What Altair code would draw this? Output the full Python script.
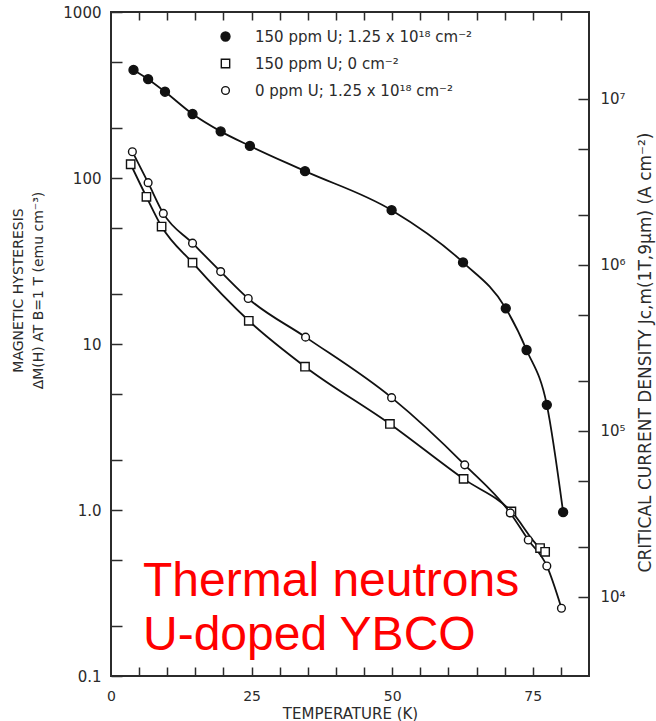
import altair as alt
import pandas as pd

# Magnetic hysteresis dM (emu cm^-3) against temperature (K) for three samples
t_u_irr = [4.0, 6.6, 9.6, 14.5, 19.5, 24.7, 34.5, 49.9, 62.6, 70.2, 73.9, 77.5, 80.4]
dm_u_irr = [448, 394, 331, 243, 191, 156, 110, 64, 31, 16.4, 9.2, 4.3, 0.97]

t_u_unirr = [3.5, 6.3, 9.0, 14.5, 24.5, 34.5, 49.6, 62.7, 71.2, 76.3, 77.2]
dm_u_unirr = [121, 77, 51, 30.9, 13.8, 7.3, 3.3, 1.54, 0.98, 0.59, 0.56]

t_pure_irr = [3.8, 6.6, 9.3, 14.5, 19.5, 24.4, 34.6, 49.9, 62.9, 71.0, 74.2, 77.5, 80.1]
dm_pure_irr = [144, 93.7, 61.2, 40.5, 27.3, 18.8, 11.0, 4.75, 1.87, 0.96, 0.66, 0.46, 0.256]

samples = [
    "150 ppm U; 1.25 x 10¹⁸ cm⁻²",
    "150 ppm U; 0 cm⁻²",
    "0 ppm U; 1.25 x 10¹⁸ cm⁻²",
]

# Jc (A cm^-2) corresponding to 1 emu cm^-3 of hysteresis
JC_PER_DM = 1e7 / 300.0

# Tick values (labelled ones first, then unlabelled minor ticks)
dm_labels = [0.1, 1, 10, 100, 1000]
dm_minor = [0.2, 0.5, 2, 5, 20, 50, 200, 500]
jc_labels = [1e4, 1e5, 1e6, 1e7]
jc_minor = [2e4, 5e4, 2e5, 5e5, 2e6, 5e6]
t_labels = [0, 25, 50, 75]
t_minor = [5, 10, 15, 20, 30, 35, 40, 45, 55, 60, 65, 70, 80]

W, H = 478, 664
INK = "#2b2b2b"
FONT = "DejaVu Sans"
TICK_Y, TICK_X = 11, 9

rows = []
for name, ts, ds in zip(samples, [t_u_irr, t_u_unirr, t_pure_irr],
                        [dm_u_irr, dm_u_unirr, dm_pure_irr]):
    for t, d in zip(ts, ds):
        rows.append({"T": t, "dM": d, "sample": name})
df = pd.DataFrame(rows)

xs = alt.Scale(domain=[0, 85], nice=False, zero=False)
ys = alt.Scale(type="log", domain=[0.1, 1000], nice=False)
jcs = alt.Scale(type="log", domain=[0.1 * JC_PER_DM, 1000 * JC_PER_DM], nice=False)

# Axes are pulled inside the frame by their tick length so the ticks point inward
common = dict(
    domain=False, grid=False, tickColor=INK, tickWidth=1.5, tickOpacity=1,
    labelFlush=False, labelOverlap=False, labelBound=False,
    labelFont=FONT, labelColor=INK, titleFont=FONT, titleColor=INK,
    titleFontWeight="normal", zindex=1,
)

# Temperature labels and title along the bottom edge
bottom_axis = alt.Axis(
    orient="bottom", values=t_labels, ticks=False, labelPadding=13, labelFontSize=14,
    title="TEMPERATURE (K)", titleFontSize=15, titleY=37, titleBaseline="middle",
    **common,
)
# Upward ticks sitting on the bottom edge (a top-oriented axis moved down to it)
bottom_tick_axis = alt.Axis(
    orient="top", values=t_minor + [25, 50, 75], offset=-H, tickSize=TICK_X, ticks=True,
    labels=False, title=None, **common,
)
top_axis = alt.Axis(
    orient="top", values=t_minor + [25, 50, 75], offset=-8, tickSize=8, ticks=True,
    labels=False, title=None, **common,
)
y_axis = alt.Axis(
    orient="left", values=dm_labels + dm_minor, offset=-TICK_Y, tickSize=TICK_Y, ticks=True,
    labelPadding=10, labelFontSize=15,
    labelExpr=("indexof([0.1, 1, 10, 100, 1000], datum.value) < 0 ? '' : "
               "datum.value < 0.5 ? '0.1' : datum.value < 5 ? '1.0' : format(datum.value, 'd')"),
    title=["MAGNETIC HYSTERESIS", "ΔM(H) AT B=1 T (emu cm⁻³)"],
    titleFontSize=14, titleAngle=270, titleX=-104, titleY=278, titleAlign="center",
    titleBaseline="middle", titleLineHeight=20,
    **common,
)
jc_axis = alt.Axis(
    orient="right", values=jc_labels + jc_minor, offset=-TICK_Y, tickSize=TICK_Y, ticks=True,
    labelPadding=11, labelFontSize=15,
    labelExpr=("indexof([10000, 100000, 1000000, 10000000], datum.value) < 0 ? '' : "
               "'10' + ['⁰','¹','²','³','⁴','⁵','⁶','⁷','⁸'][round(log(datum.value) / LN10)]"),
    title="CRITICAL CURRENT DENSITY  Jc,m(1T,9μm) (A cm⁻²)",
    titleFontSize=17, titleAngle=270, titleX=67, titleY=340, titleAlign="center",
    titleBaseline="middle",
    **common,
)

lines = alt.Chart(df).mark_line(interpolate="monotone", color="#111", strokeWidth=1.8).encode(
    x=alt.X("T:Q", scale=xs, axis=top_axis),
    y=alt.Y("dM:Q", scale=ys, axis=y_axis),
    detail="sample:N",
)

legend = alt.Legend(
    title=None, orient="none", legendX=107, legendY=17, labelLimit=0,
    labelFont=FONT, labelFontSize=15, labelColor=INK, labelOffset=22,
    rowPadding=11, symbolStrokeWidth=1.4,
)
points = alt.Chart(df).mark_point(filled=True, strokeWidth=1.4, opacity=1).encode(
    x=alt.X("T:Q", scale=xs, axis=top_axis),
    y=alt.Y("dM:Q", scale=ys, axis=y_axis),
    shape=alt.Shape("sample:N", scale=alt.Scale(domain=samples, range=["circle", "square", "circle"]), legend=legend),
    fill=alt.Fill("sample:N", scale=alt.Scale(domain=samples, range=["#111", "white", "white"]), legend=legend),
    stroke=alt.Stroke("sample:N", scale=alt.Scale(domain=samples, range=["#111", "#111", "#111"]), legend=legend),
    size=alt.Size("sample:N", scale=alt.Scale(domain=samples, range=[80, 60, 50]), legend=legend),
)

red_line1 = alt.Chart(pd.DataFrame({"label": ["Thermal neutrons"]})).mark_text(
    align="left", baseline="alphabetic", font="Liberation Sans", fontSize=48, color="#ff0000"
).encode(text="label:N", x=alt.value(32), y=alt.value(584))
red_line2 = alt.Chart(pd.DataFrame({"label": ["U-doped YBCO"]})).mark_text(
    align="left", baseline="alphabetic", font="Liberation Sans", fontSize=48, color="#ff0000"
).encode(text="label:N", x=alt.value(32), y=alt.value(638))

left = alt.layer(lines, points, red_line1, red_line2)

# Same curves expressed as critical current density, carrying the right and bottom axes
jc_side = alt.Chart(df).transform_calculate(
    jc=f"datum.dM * {JC_PER_DM}"
).mark_point(opacity=0).encode(
    x=alt.X("T:Q", scale=xs, axis=bottom_axis),
    y=alt.Y("jc:Q", scale=jcs, axis=jc_axis),
)

# Carrier for the inward ticks along the bottom edge
bottom_ticks = alt.Chart(df).mark_point(opacity=0).encode(
    x=alt.X("T:Q", scale=xs, axis=bottom_tick_axis),
)

chart = alt.layer(left, jc_side, bottom_ticks).resolve_scale(y="independent").resolve_axis(
    x="independent", y="independent"
).properties(
    width=W, height=H,
    autosize=alt.AutoSizeParams(type="none"),
    padding={"left": 111, "top": 12, "right": 67, "bottom": 45},
    background="white",
).configure_view(stroke=INK, strokeWidth=2)

chart.save("out.html", embed_options={"renderer": "svg", "actions": False})
